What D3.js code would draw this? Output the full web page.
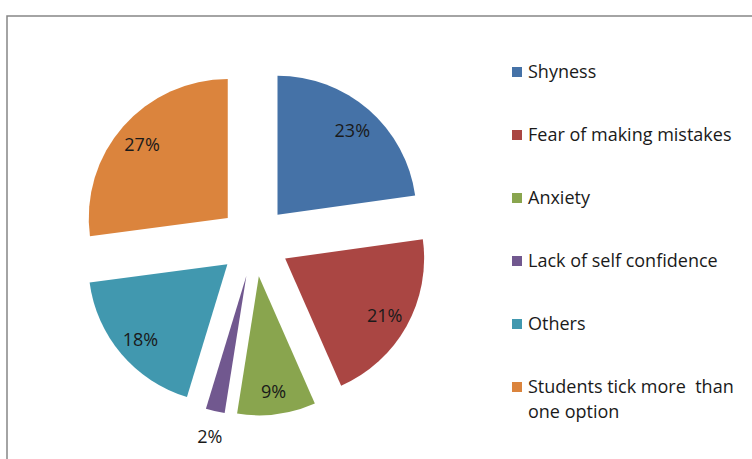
<!DOCTYPE html>
<html>
<head>
<meta charset="utf-8">
<script src="https://cdn.jsdelivr.net/npm/d3@7"></script>
<style>
  body { margin: 0; background: #fff; }
  svg { display: block; font-family: "Open Sans", "Liberation Sans", Arial, sans-serif; }
</style>
</head>
<body>
<svg id="chart" width="752" height="459"></svg>
<script>
var categories = ["Shyness", "Fear of making mistakes", "Anxiety", "Lack of self confidence", "Others", "Students tick more  than one option"];
var values = [22.8, 20.6, 9.1, 2.2, 18.2, 27.1];
var colors = ["#4572A7", "#AA4643", "#89A54E", "#71588F", "#4198AF", "#DB843D"];

var svg = d3.select("#chart");

// chart frame (runs off the right and bottom edge)
svg.append("rect")
    .attr("x", 7).attr("y", 16)
    .attr("width", 800).attr("height", 500)
    .attr("fill", "#fff")
    .attr("stroke", "#868686")
    .attr("stroke-width", 1.5);

var cx = 254.3, cy = 241.3, r = 139, explode = 35.3;

var pie = d3.pie().sort(null).value(function(d) { return d; });
var arcs = pie(values);
var arc = d3.arc().innerRadius(0).outerRadius(r);

var g = svg.append("g").attr("transform", "translate(" + cx + "," + cy + ")");

function mid(d) { return (d.startAngle + d.endAngle) / 2; }

var slice = g.selectAll("g.slice")
    .data(arcs)
  .enter().append("g")
    .attr("class", "slice")
    .attr("transform", function(d) {
        var a = mid(d);
        return "translate(" + (Math.sin(a) * explode) + "," + (-Math.cos(a) * explode) + ")";
    });

slice.append("path")
    .attr("d", arc)
    .attr("fill", function(d, i) { return colors[i]; });

// labels: inside for normal slices, outside for tiny ones
slice.append("text")
    .attr("x", function(d) {
        var k = d.value < 5 ? r + 24 : r * 0.82;
        return Math.sin(mid(d)) * k;
    })
    .attr("y", function(d) {
        var k = d.value < 5 ? r + 24 : r * 0.82;
        return -Math.cos(mid(d)) * k + 2;
    })
    .attr("dy", "0.35em")
    .attr("text-anchor", "middle")
    .attr("font-size", 18)
    .attr("fill", "#1a1a1a")
    .text(function(d) { return Math.round(d.value) + "%"; });

// legend
var legend = svg.append("g").attr("transform", "translate(512,72)");
var row = legend.selectAll("g")
    .data(categories)
  .enter().append("g")
    .attr("transform", function(d, i) { return "translate(0," + (i * 63) + ")"; });

row.append("rect")
    .attr("x", 0).attr("y", -5)
    .attr("width", 10).attr("height", 10)
    .attr("fill", function(d, i) { return colors[i]; });

row.append("text")
    .attr("x", 16)
    .attr("font-size", 18)
    .attr("fill", "#1a1a1a")
    .each(function(d) {
        var t = d3.select(this);
        // wrap the long last entry the way the original does
        var lines = d.length > 25 ? [d.slice(0, d.indexOf("than") + 4), d.slice(d.indexOf("than") + 5)] : [d];
        lines.forEach(function(line, j) {
            t.append("tspan")
                .attr("x", 16)
                .attr("dy", j === 0 ? "0.35em" : 25)
                .attr("xml:space", "preserve")
                .text(line);
        });
    });
</script>
</body>
</html>
